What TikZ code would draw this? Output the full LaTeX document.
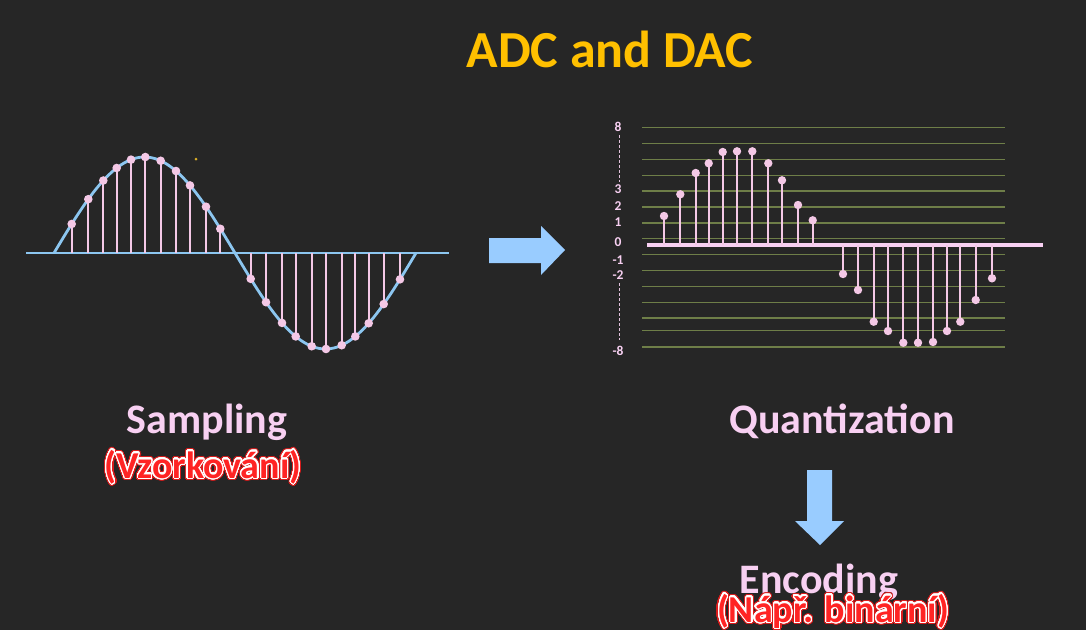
\documentclass[tikz,border=0pt]{standalone}
\usepackage{fontspec}
\setmainfont{Carlito}
\usepackage{xcolor}
\usepackage{contour}
\contournumber{48}
\usepackage{tikz}

\definecolor{bgdark}{HTML}{262626}
\definecolor{titleorange}{HTML}{FFC000}
\definecolor{labpink}{HTML}{F8D0F2}
\definecolor{stempink}{HTML}{F4C8E6}
\definecolor{wavblue}{HTML}{8CC6F0}
\definecolor{arrowblue}{HTML}{99CCFF}
\definecolor{levelgreen}{HTML}{6E7E48}
\definecolor{labred}{HTML}{FF2424}
\definecolor{glowred}{HTML}{D81C1C}

% red label with white edge and red glow
\newcommand{\czlabel}[1]{\rlap{\contourlength{2.4pt}\contour{glowred}{\textcolor{glowred}{#1}}}{\contourlength{1.1pt}\contour{white}{\textcolor{labred}{#1}}}}

\begin{document}
\begin{tikzpicture}[x=1pt,y=-1pt,
  titletext/.style={anchor=base,font=\fontsize{52}{60}\selectfont\bfseries,text=titleorange},
  steptext/.style={anchor=base,font=\fontsize{42}{50}\selectfont\bfseries,text=labpink},
  redtext/.style={anchor=base,font=\fontsize{38}{44}\selectfont\bfseries},
  ticklab/.style={anchor=base,font=\fontsize{13.5}{16}\selectfont\bfseries,text=labpink,inner sep=0pt},
  stem/.style={draw=stempink,line width=1.8pt},
  wave/.style={draw=wavblue,line width=2.8pt},
  level/.style={draw=levelgreen,line width=1.2pt},
  qaxis/.style={draw=labpink,line width=3.6pt},
  qstem/.style={draw=stempink,line width=2pt},
  blockarrow/.style={fill=arrowblue}]
  \useasboundingbox[fill=bgdark] (0,0) rectangle (1086,630);

  \node[titletext] (title) at (610,67) {ADC and DAC};

  % sampling
  \draw[wave] (26,253) -- (449,253);
  \foreach \sx in {71.7,88.3,103.3,116.7,131,145.3,160.7,176,190,206,220.3,
                   250.7,266,282,295.7,311.7,326,341.7,355.3,368.7,383.7,400}
    \draw[stem] (\sx,253) -- (\sx,{253-96*sin((\sx-54)/181*180)});
  \draw[wave] plot[domain=54:416,samples=120] (\x,{253-96*sin((\x-54)/181*180)});
  \foreach \sx in {71.7,88.3,103.3,116.7,131,145.3,160.7,176,190,206,220.3,
                   250.7,266,282,295.7,311.7,326,341.7,355.3,368.7,383.7,400}
    \fill[stempink] (\sx,{253-96*sin((\sx-54)/181*180)}) circle (4.3pt);
  \fill[titleorange!70!gray] (196,159) circle (1.5pt);

  \node[steptext] (sampling) at (207,433) {Sampling};
  \node[redtext] (vzorkovani) at (203,478) {\czlabel{(Vzorkování)}};

  % arrow to quantization
  \fill[blockarrow] (489,238) -- (541,238) -- (541,226) -- (565,250)
    -- (541,275) -- (541,263) -- (489,263) -- cycle;

  % quantization
  \foreach \gy in {127.3,143.3,159.3,175.3,191,207,223,238.7,
                   254.3,270.3,286.3,302.3,318,330.7,347}
    \draw[level] (642,\gy) -- (1005,\gy);
  \draw[qaxis] (647,244.7) -- (1043,244.7);
  \foreach \qx/\qy in {664/216,680.3/194.3,695.7/173,708.7/163.3,722.7/152,
                       737/151.3,752.3/151.3,768.3/163.3,782/180.3,798/205,812.7/220.3,
                       843/274,858/290,873.7/321.7,888/331,903.3/342.7,918/342.7,
                       933/342,947/331,960.3/321.7,975.7/300,992/278.3}
  {
    \draw[qstem] (\qx,245) -- (\qx,\qy);
    \fill[stempink] (\qx,\qy) circle (4.2pt);
  }
  \foreach \ly/\lt in {131.3/8,193.5/3,210/2,226/1,246.7/0,264/-1,279/-2,355/-8}
    \node[ticklab] at (618,\ly) {\lt};
  \draw[labpink!80!gray,densely dashed,line width=0.6pt] (619,135) -- (619,181.7);
  \draw[labpink!80!gray,densely dashed,line width=0.6pt] (619,283) -- (619,340);

  \node[steptext] (quantization) at (842,433) {Quantization};

  % arrow to encoding
  \fill[blockarrow] (807,470) -- (832,470) -- (832,521) -- (844,521)
    -- (820,545) -- (795,521) -- (807,521) -- cycle;

  \node[steptext] (encoding) at (819,593) {Encoding};
  \node[redtext] (binarni) at (833,622) {\czlabel{(Nápř. binární)}};
\end{tikzpicture}
\end{document}
